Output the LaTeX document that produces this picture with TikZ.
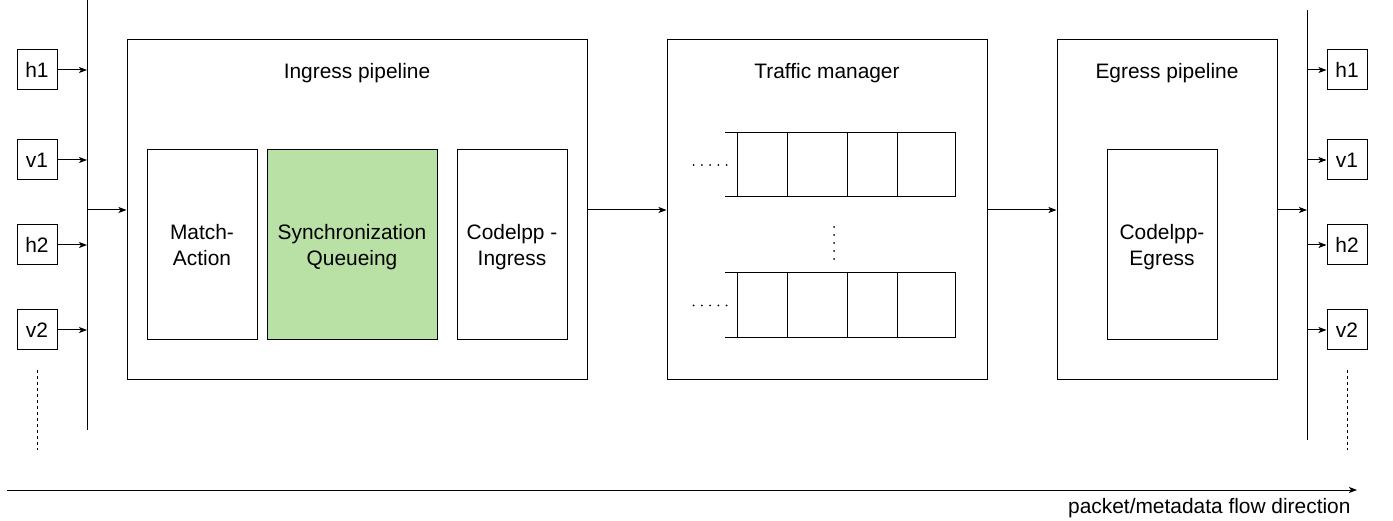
\documentclass[tikz,border=0pt]{standalone}
\usepackage{fontspec}
\setmainfont{Liberation Sans}
\usetikzlibrary{arrows.meta}
\begin{document}
\begin{tikzpicture}[x=1pt,y=-1pt,line width=1pt,
  box/.style={draw,rectangle,inner sep=0pt,font=\fontsize{20.9}{26}\selectfont,align=center,text depth=0pt},
  port/.style={box,minimum width=40pt,minimum height=40pt},
  stage/.style={box,minimum width=110pt,minimum height=190pt},
  lbl/.style={font=\fontsize{20.9}{26}\selectfont,inner sep=0pt,text height=15pt,text depth=0pt},
  arr/.style={-{Stealth[length=8pt,width=6pt,inset=2pt]}},
  qline/.style={draw=black},
  dotm/.style={fill=black}]
\useasboundingbox (0,0) rectangle (1393,521);

% ---- left ports and bus
\coordinate (busLt) at (87,0);
\coordinate (busLb) at (87,430);
\draw (busLt) -- (busLb);
\node[port] (lh1) at (37,70) {h1};
\node[port] (lv1) at (37,160) {v1};
\node[port] (lh2) at (37,245) {h2};
\node[port] (lv2) at (37,330) {v2};
\foreach \n in {lh1,lv1,lh2,lv2} \draw[arr] (\n) -- (\n -| busLt);
\coordinate (ldt) at (37,370);
\coordinate (ldb) at (37,450);
\draw[dashed,line width=0.8pt,dash pattern=on 3pt off 3pt] (ldt) -- (ldb);

% ---- ingress pipeline
\node[box,minimum width=460pt,minimum height=340pt] (ing) at (357,210) {};
\node[lbl] (ingT) at (357,71) {Ingress pipeline};
\node[stage] (ma) at (202,245) {Match-\\Action};
\node[stage,minimum width=170pt,fill={rgb,255:red,185;green,224;blue,165}] (sq) at (352,245) {Synchronization\\Queueing};
\node[stage] (ci) at (512,245) {Codelpp -\\Ingress};
\coordinate (busLm) at (87,210);
\draw[arr] (busLm) -- (ing.west);

% ---- traffic manager
\node[box,minimum width=320pt,minimum height=340pt] (tm) at (827,210) {};
\node[lbl] (tmT) at (827,71) {Traffic manager};
\draw[arr] (ing.east) -- (tm.west);
\foreach \yt/\yb in {133/197,273/338}{
  \draw[qline] (725,\yt) -- (955,\yt) -- (955,\yb) -- (725,\yb);
  \foreach \x in {737,787,847,897} \draw[qline] (\x,\yt) -- (\x,\yb);
  \foreach \i in {0,...,4} \fill[dotm] ({693.5+\i*8.3},{(\yt+\yb)/2}) circle (1pt);
}
\foreach \i in {0,...,4} \fill[dotm] (834,{227+\i*8}) circle (1pt);

% ---- egress pipeline
\node[box,minimum width=220pt,minimum height=340pt] (eg) at (1167,210) {};
\node[lbl] (egT) at (1167,71) {Egress pipeline};
\node[stage] (ce) at (1162,245) {Codelpp-\\Egress};
\draw[arr] (tm.east) -- (eg.west);

% ---- right bus and ports
\coordinate (busRt) at (1307,10);
\coordinate (busRb) at (1307,440);
\draw (busRt) -- (busRb);
\draw[arr] (eg.east) -- (eg.east -| busRt);
\node[port] (rh1) at (1347,70) {h1};
\node[port] (rv1) at (1347,160) {v1};
\node[port] (rh2) at (1347,245) {h2};
\node[port] (rv2) at (1347,330) {v2};
\foreach \n in {rh1,rv1,rh2,rv2} \draw[arr] (\n -| busRt) -- (\n);
\coordinate (rdt) at (1347,370);
\coordinate (rdb) at (1347,450);
\draw[dashed,line width=0.8pt,dash pattern=on 3pt off 3pt] (rdt) -- (rdb);

% ---- flow direction
\coordinate (fs) at (7,490);
\coordinate (fe) at (1357,490);
\draw[arr] (fs) -- (fe);
\node[lbl,anchor=east] (flow) at (1351,506) {packet/metadata flow direction};
\end{tikzpicture}
\end{document}
